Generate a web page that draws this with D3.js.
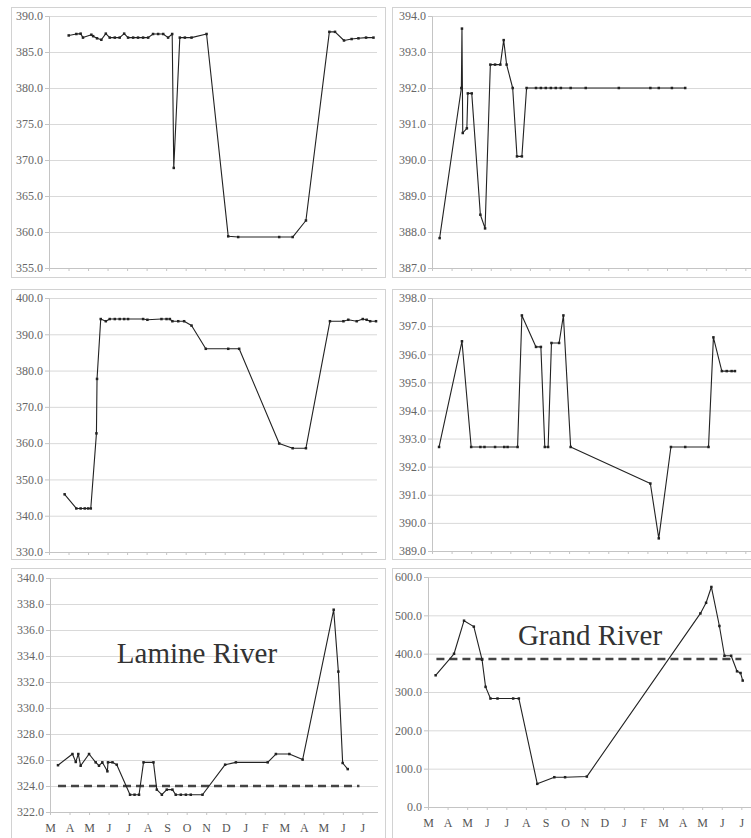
<!DOCTYPE html>
<html>
<head>
<meta charset="utf-8">
<script src="https://cdn.jsdelivr.net/npm/d3@7/dist/d3.min.js"></script>
<style>
  html, body { margin: 0; padding: 0; background: #fff; }
  svg { display: block; }
</style>
</head>
<body>
<script>
// Month initials along the shared time axis (March through July of the following year)
const monthLabels = ["M", "A", "M", "J", "J", "A", "S", "O", "N", "D", "J", "F", "M", "A", "M", "J", "J"];

// Each series: [months since 1 March, water level]
const topLeftLevels = [
  [1.01, 387.3], [1.40, 387.5], [1.62, 387.55], [1.74, 387.0], [2.17, 387.4], [2.26, 387.2],
  [2.46, 386.9], [2.68, 386.7], [2.91, 387.55], [3.11, 387.0], [3.37, 387.0], [3.62, 387.0],
  [3.85, 387.55], [4.05, 387.0], [4.31, 387.0], [4.56, 387.0], [4.82, 387.0], [5.08, 387.0],
  [5.33, 387.5], [5.59, 387.5], [5.85, 387.5], [6.10, 387.0], [6.31, 387.5], [6.39, 368.9],
  [6.70, 387.0], [6.96, 387.0], [7.30, 387.0], [8.07, 387.5], [9.18, 359.4], [9.69, 359.3],
  [11.79, 359.3], [12.48, 359.3], [13.16, 361.6], [14.36, 387.8], [14.65, 387.8], [15.11, 386.6],
  [15.50, 386.8], [15.85, 386.9], [16.24, 387.0], [16.62, 387.0]
];

const topRightLevels = [
  [0.39, 387.83], [1.50, 392.0], [1.53, 393.65], [1.57, 390.75], [1.78, 390.88], [1.83, 391.85],
  [2.03, 391.85], [2.47, 388.48], [2.71, 388.1], [2.98, 392.65], [3.22, 392.65], [3.49, 392.65],
  [3.66, 393.33], [3.81, 392.65], [4.12, 392.0], [4.34, 390.1], [4.59, 390.1], [4.83, 392.0],
  [5.31, 392.0], [5.56, 392.0], [5.81, 392.0], [6.07, 392.0], [6.32, 392.0], [6.58, 392.0],
  [7.08, 392.0], [7.85, 392.0], [9.54, 392.0], [11.15, 392.0], [11.58, 392.0], [12.25, 392.0],
  [12.93, 392.0]
];

const middleLeftLevels = [
  [0.80, 345.9], [1.40, 342.0], [1.62, 342.0], [1.83, 342.0], [2.00, 342.0], [2.14, 342.0],
  [2.43, 362.7], [2.46, 377.7], [2.65, 394.2], [2.91, 393.6], [3.11, 394.2], [3.37, 394.2],
  [3.62, 394.2], [3.85, 394.2], [4.05, 394.2], [4.82, 394.2], [5.04, 394.0], [5.76, 394.2],
  [6.02, 394.2], [6.19, 394.2], [6.32, 393.6], [6.62, 393.6], [6.92, 393.6], [7.30, 392.4],
  [8.03, 386.0], [9.18, 386.0], [9.74, 386.0], [11.79, 359.9], [12.48, 358.6], [13.16, 358.6],
  [14.39, 393.6], [15.08, 393.6], [15.33, 394.0], [15.76, 393.6], [16.07, 394.2], [16.27, 394.0],
  [16.45, 393.6], [16.75, 393.6]
];

const middleRightLevels = [
  [0.36, 392.7], [1.53, 396.46], [2.00, 392.7], [2.47, 392.7], [2.68, 392.7], [3.22, 392.7],
  [3.69, 392.7], [3.86, 392.7], [4.37, 392.7], [4.59, 397.38], [5.31, 396.26], [5.56, 396.26],
  [5.76, 392.7], [5.93, 392.7], [6.10, 396.4], [6.49, 396.4], [6.71, 397.38], [7.08, 392.7],
  [11.15, 391.4], [11.58, 389.45], [12.20, 392.7], [12.93, 392.7], [14.12, 392.7], [14.37, 396.6],
  [14.80, 395.4], [15.05, 395.4], [15.30, 395.4], [15.47, 395.4]
];

const lamineLevels = [
  [0.41, 325.6], [1.15, 326.46], [1.32, 325.85], [1.45, 326.46], [1.57, 325.56], [2.00, 326.46],
  [2.34, 325.82], [2.51, 325.56], [2.68, 325.82], [2.94, 325.13], [2.97, 325.82], [3.20, 325.82],
  [3.42, 325.64], [4.10, 323.33], [4.33, 323.33], [4.56, 323.33], [4.79, 325.82], [5.30, 325.82],
  [5.47, 323.72], [5.73, 323.33], [5.98, 323.72], [6.27, 323.72], [6.44, 323.33], [6.70, 323.33],
  [6.96, 323.33], [7.21, 323.33], [7.81, 323.33], [8.97, 325.64], [9.52, 325.82], [11.15, 325.82],
  [11.57, 326.46], [12.26, 326.46], [12.94, 326.03], [14.53, 337.56], [14.77, 332.8], [14.99, 325.77],
  [15.25, 325.3]
];

const grandLevels = [
  [0.39, 343.6], [1.33, 399.7], [1.84, 486.0], [2.34, 470.5], [2.76, 384.2], [2.94, 313.4],
  [3.19, 283.0], [3.55, 283.0], [4.35, 283.0], [4.64, 283.0], [5.58, 60.4], [6.45, 77.7],
  [7.00, 77.7], [8.11, 79.4], [13.91, 505.0], [14.20, 532.7], [14.47, 574.0], [14.88, 472.2],
  [15.14, 394.5], [15.48, 394.5], [15.78, 354.0], [15.96, 349.6], [16.07, 329.8]
];

// Long-term mean levels drawn as dashed reference lines: [start month, end month, level]
const lamineMean = [0.41, 15.85, 324.0];
const grandMean = [0.43, 16.0, 386.0];

// Y tick values for each panel
const topLeftTicks = [355, 360, 365, 370, 375, 380, 385, 390];
const topRightTicks = [387, 388, 389, 390, 391, 392, 393, 394];
const middleLeftTicks = [330, 340, 350, 360, 370, 380, 390, 400];
const middleRightTicks = [389, 390, 391, 392, 393, 394, 395, 396, 397, 398];
const lamineTicks = [322, 324, 326, 328, 330, 332, 334, 336, 338, 340];
const grandTicks = [0, 100, 200, 300, 400, 500, 600];

const W = 751, H = 838;
const FONT = "Liberation Serif, Times New Roman, serif";
const monthSpan = 16.8;

// Panel frames and plot areas
const panels = [
  { series: topLeftLevels, ticks: topLeftTicks, box: [11, 7, 374, 270], plot: [49, 16, 377, 268], months: false },
  { series: topRightLevels, ticks: topRightTicks, box: [392, 7, 380, 270], plot: [432, 16, 761, 268], months: false },
  { series: middleLeftLevels, ticks: middleLeftTicks, box: [11, 289, 374, 270], plot: [49, 298, 377, 552], months: false },
  { series: middleRightLevels, ticks: middleRightTicks, box: [392, 289, 380, 270], plot: [432, 298, 761, 551], months: false },
  { series: lamineLevels, ticks: lamineTicks, box: [11, 568, 374, 290], plot: [50, 578, 378, 812], months: true,
    mean: lamineMean, title: "Lamine River", titlePos: [197, 663] },
  { series: grandLevels, ticks: grandTicks, box: [392, 568, 380, 290], plot: [428, 577, 757, 807], months: true,
    mean: grandMean, title: "Grand River", titlePos: [590, 645] }
];

const svg = d3.select("body").append("svg")
  .attr("width", W).attr("height", H)
  .attr("viewBox", `0 0 ${W} ${H}`);

svg.append("rect").attr("width", W).attr("height", H).attr("fill", "#fff");

panels.forEach(p => {
  const [bx, by, bw, bh] = p.box;
  const [left, top, right, bottom] = p.plot;
  const g = svg.append("g");

  g.append("rect")
    .attr("x", bx + 0.5).attr("y", by + 0.5)
    .attr("width", bw).attr("height", bh)
    .attr("fill", "#fff").attr("stroke", "#d2d2d2").attr("stroke-width", 1);

  const x = d3.scaleLinear().domain([0, monthSpan]).range([left, right]);
  const y = d3.scaleLinear().domain([d3.min(p.ticks), d3.max(p.ticks)]).range([bottom, top]);

  // horizontal gridlines
  const grid = g.append("g")
    .attr("transform", `translate(${left},0)`)
    .call(d3.axisLeft(y).tickValues(p.ticks).tickSize(-(right - left)).tickFormat(""));
  grid.select(".domain").remove();
  grid.selectAll(".tick line").attr("stroke", "#d9d9d9").attr("stroke-width", 1);

  // y axis with labels
  const ya = g.append("g")
    .attr("transform", `translate(${left},0)`)
    .call(d3.axisLeft(y).tickValues(p.ticks).tickSize(4).tickPadding(2).tickFormat(d3.format(".1f")))
    .attr("font-family", FONT).attr("font-size", 12);
  ya.select(".domain").attr("stroke", "#c4c4c4");
  ya.selectAll(".tick line").attr("stroke", "#c4c4c4");
  ya.selectAll(".tick text").attr("fill", "#666");

  // x axis with month ticks
  const xa = g.append("g")
    .attr("transform", `translate(0,${bottom})`)
    .call(d3.axisBottom(x).tickValues(d3.range(monthLabels.length)).tickSize(3).tickPadding(p.months ? 8 : 3)
      .tickFormat(i => p.months ? monthLabels[i] : ""))
    .attr("font-family", FONT).attr("font-size", 12);
  xa.select(".domain").attr("stroke", "#c4c4c4").attr("d", `M${left},0.5H${right}`);
  xa.selectAll(".tick line").attr("stroke", "#c4c4c4");
  xa.selectAll(".tick text").attr("fill", "#555");

  // dashed mean level
  if (p.mean) {
    const [m0, m1, lvl] = p.mean;
    g.append("line")
      .attr("x1", x(m0)).attr("x2", x(m1))
      .attr("y1", y(lvl)).attr("y2", y(lvl))
      .attr("stroke", "#444").attr("stroke-width", 2.4)
      .attr("stroke-dasharray", "8,5");
  }

  // river title
  if (p.title) {
    g.append("text")
      .attr("x", p.titlePos[0]).attr("y", p.titlePos[1])
      .attr("text-anchor", "middle")
      .attr("fill", "#333")
      .attr("font-family", FONT).attr("font-size", 29)
      .text(p.title);
  }

  // level series
  const line = d3.line().x(d => x(d[0])).y(d => y(d[1]));
  g.append("path")
    .datum(p.series)
    .attr("d", line)
    .attr("fill", "none").attr("stroke", "#222").attr("stroke-width", 1.1)
    .attr("stroke-linejoin", "round");

  g.selectAll("rect.pt")
    .data(p.series)
    .join("rect")
    .attr("class", "pt")
    .attr("x", d => x(d[0]) - 1.25).attr("y", d => y(d[1]) - 1.25)
    .attr("width", 2.5).attr("height", 2.5)
    .attr("fill", "#222");
});
</script>
</body>
</html>
